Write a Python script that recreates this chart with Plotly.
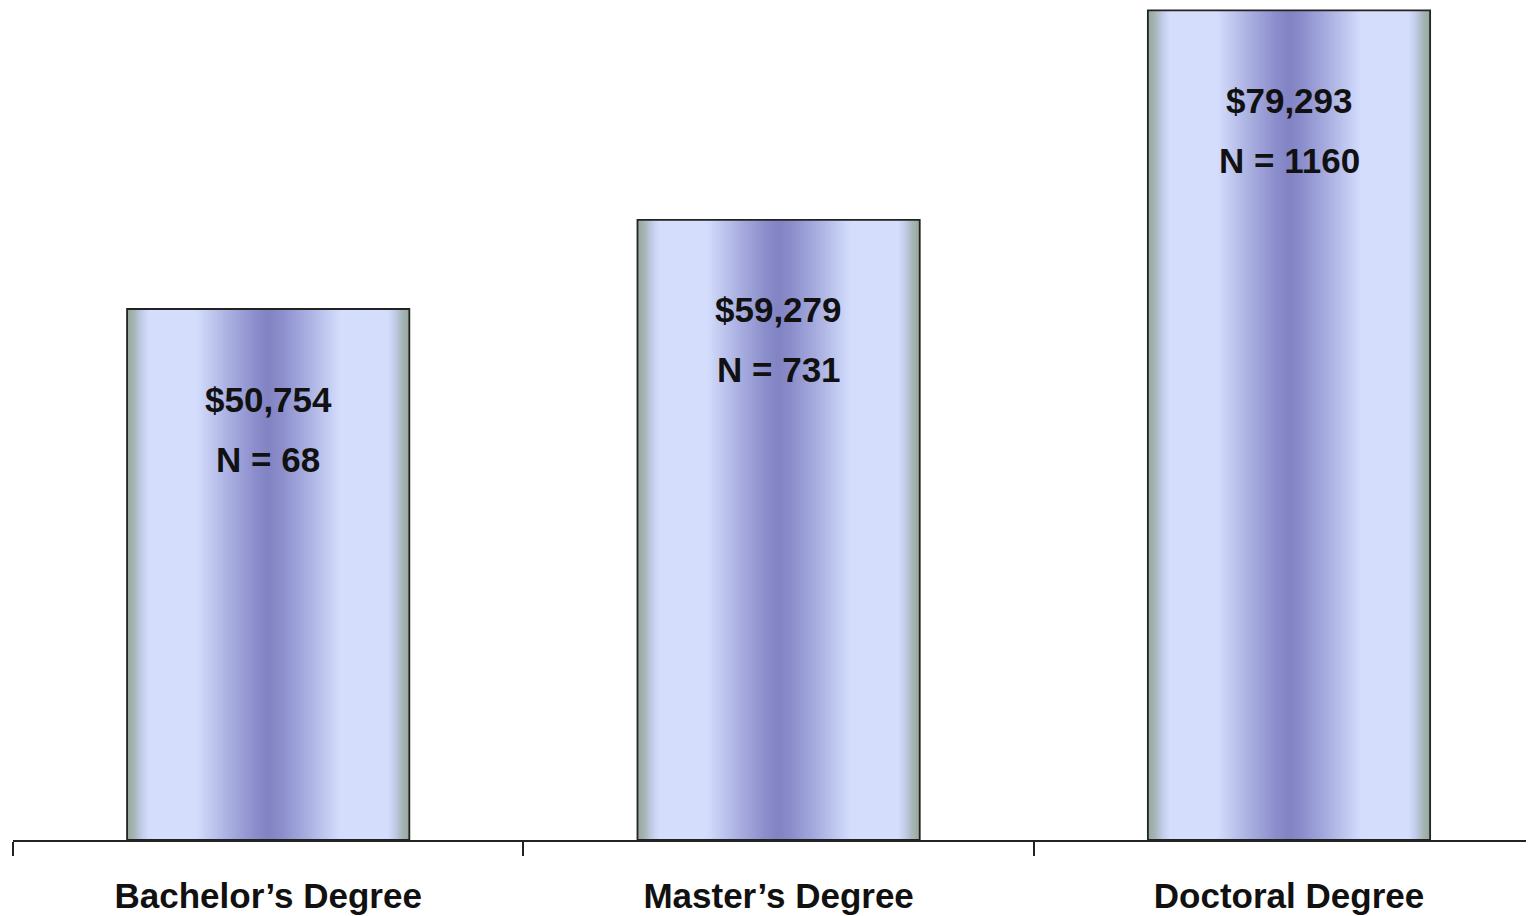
import numpy as np
import plotly.graph_objects as go

# 数据
degrees = ["Bachelor’s Degree", "Master’s Degree", "Doctoral Degree"]
salaries = [50754, 59279, 79293]
counts = [68, 731, 1160]

BAR_W = 0.553
FONT = "Liberation Sans, Arial, sans-serif"

# 柱子横向渐变：d=距中心的相对距离(0中心, 1边缘)
STOPS = [
    (0.00, (128, 130, 194)),
    (0.10, (140, 142, 204)),
    (0.30, (172, 178, 226)),
    (0.52, (212, 222, 252)),
    (0.85, (212, 222, 252)),
    (0.90, (195, 205, 235)),
    (0.96, (165, 180, 180)),
    (1.00, (152, 170, 158)),
]


def _shade(d):
    ds = [s[0] for s in STOPS]
    rgb = [int(round(np.interp(d, ds, [s[1][k] for s in STOPS]))) for k in range(3)]
    return f"rgb({rgb[0]},{rgb[1]},{rgb[2]})"


fig = go.Figure()

# 由外向内叠加，做出圆柱效果
n_layers = 80
for i in range(n_layers):
    d = 1 - i / n_layers
    fig.add_trace(go.Bar(
        x=degrees, y=salaries,
        width=[BAR_W * d] * len(degrees),
        marker=dict(color=_shade(d), line=dict(width=0)),
        showlegend=False, hoverinfo='skip',
    ))

# 外框
fig.add_trace(go.Bar(
    x=degrees, y=salaries,
    width=[BAR_W] * len(degrees),
    marker=dict(color='rgba(0,0,0,0)', line=dict(width=1.8, color='#222')),
    showlegend=False,
    hovertext=[f"{d}: ${s:,} (N = {n})" for d, s, n in zip(degrees, salaries, counts)],
    hoverinfo='text',
))

# 柱内标签
for deg, sal, n in zip(degrees, salaries, counts):
    fig.add_annotation(x=deg, y=sal, text=f"<b>${sal:,}</b>", showarrow=False,
                       yshift=-90, font=dict(family=FONT, size=35, color='#111'))
    fig.add_annotation(x=deg, y=sal, text=f"<b>N = {n}</b>", showarrow=False,
                       yshift=-150, font=dict(family=FONT, size=35, color='#111'))

fig.update_xaxes(
    range=[-0.5, 2.48],
    tickson='boundaries', ticks='outside', ticklen=14, tickwidth=1.8, tickcolor='#222',
    showline=True, linewidth=1.8, linecolor='#222',
    showgrid=False, zeroline=False,
    tickfont=dict(family=FONT, size=35, color='#111'),
    tickprefix='<b>', ticksuffix='</b>',
    ticklabelstandoff=24,
)
fig.update_yaxes(range=[0, 79525], visible=False, showgrid=False)

fig.update_layout(
    barmode='overlay',
    width=1526, height=908,
    margin=dict(l=5, r=0, t=0, b=76),
    plot_bgcolor='white', paper_bgcolor='white',
)

fig.write_html("out.html")
